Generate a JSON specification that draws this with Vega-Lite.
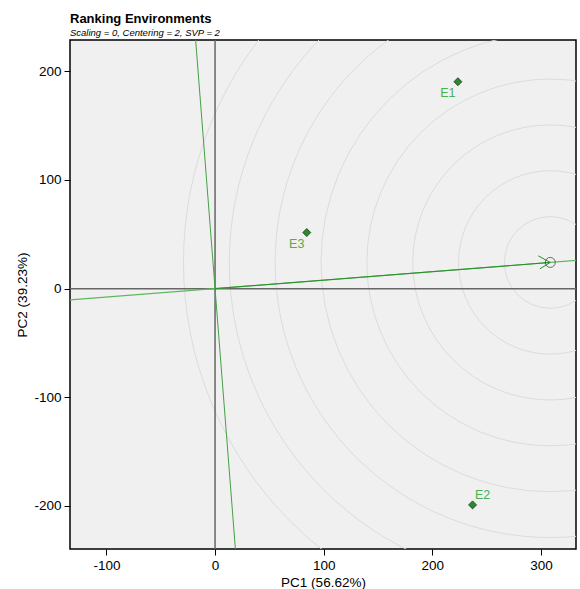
{
  "$schema": "https://vega.github.io/schema/vega-lite/v6.json",
  "width": 506,
  "height": 509,
  "autosize": "none",
  "padding": {"left": 70, "top": 40, "right": 4, "bottom": 40},
  "background": "white",
  "title": {
    "text": "Ranking Environments",
    "subtitle": "Scaling = 0, Centering = 2, SVP = 2",
    "anchor": "start",
    "frame": "group",
    "font": "Liberation Sans",
    "fontSize": 13,
    "fontWeight": "bold",
    "color": "black",
    "subtitleFont": "Liberation Sans",
    "subtitleFontSize": 9.5,
    "subtitleFontStyle": "italic",
    "subtitleColor": "black",
    "offset": 3,
    "subtitlePadding": 2
  },
  "config": {
    "view": {"fill": "#f0f0f0", "stroke": "black", "strokeWidth": 1.5},
    "axis": {
      "grid": false,
      "domain": false,
      "tickColor": "black",
      "tickSize": 6,
      "labelFont": "Liberation Sans",
      "labelFontSize": 13.5,
      "labelColor": "black",
      "labelPadding": 3,
      "labelExpr": "toString(datum.value)",
      "titleFont": "Liberation Sans",
      "titleFontSize": 13.5,
      "titleFontWeight": "normal",
      "titleColor": "black"
    }
  },
  "datasets": {
    "envs": [
      {"env": "E1", "pc1": 223.5, "pc2": 190.4},
      {"env": "E2", "pc1": 237.0, "pc2": -199.0},
      {"env": "E3", "pc1": 84.4, "pc2": 51.6}
    ],
    "circles": [
      {"cx": 308.5, "cy": 24.1, "r": 42.2},
      {"cx": 308.5, "cy": 24.1, "r": 84.4},
      {"cx": 308.5, "cy": 24.1, "r": 126.6},
      {"cx": 308.5, "cy": 24.1, "r": 168.8},
      {"cx": 308.5, "cy": 24.1, "r": 211.0},
      {"cx": 308.5, "cy": 24.1, "r": 253.2},
      {"cx": 308.5, "cy": 24.1, "r": 295.4},
      {"cx": 308.5, "cy": 24.1, "r": 337.6}
    ],
    "aec": [
      {"px": -140, "py": -10.94},
      {"px": 340, "py": 26.56}
    ],
    "perp": [
      {"px": -18.75, "py": 240},
      {"px": 19.53, "py": -250}
    ],
    "arrow": [
      {"seg": "shaft", "px": 0, "py": 0, "o": 0},
      {"seg": "shaft", "px": 308.5, "py": 24.1, "o": 1},
      {"seg": "head1", "px": 297.4, "py": 30.2, "o": 0},
      {"seg": "head1", "px": 308.5, "py": 24.1, "o": 1},
      {"seg": "head2", "px": 299.0, "py": 18.2, "o": 0},
      {"seg": "head2", "px": 308.5, "py": 24.1, "o": 1}
    ],
    "ideal": [
      {"px": 308.5, "py": 24.1}
    ]
  },
  "layer": [
    {
      "data": {"name": "circles"},
      "mark": {"type": "point", "shape": "circle", "filled": false, "stroke": "#dcdcdc", "strokeWidth": 1, "clip": true, "opacity": 1},
      "encoding": {
        "x": {"field": "cx", "type": "quantitative", "scale": {"domain": [-133.5, 332.2], "nice": false, "zero": false}, "axis": {"values": [-100, 0, 100, 200, 300], "title": "PC1 (56.62%)"}},
        "y": {"field": "cy", "type": "quantitative", "scale": {"domain": [-239.6, 228.8], "nice": false, "zero": false}, "axis": {"values": [-200, -100, 0, 100, 200], "title": "PC2 (39.23%)"}},
        "size": {"field": "r", "type": "quantitative", "scale": {"type": "pow", "exponent": 2, "domain": [0, 400], "range": [0, 755520]}, "legend": null}
      }
    },
    {
      "data": {"values": [{"v": 0}]},
      "mark": {"type": "rule", "color": "#666666", "strokeWidth": 1.5, "clip": true},
      "encoding": {"x": {"field": "v", "type": "quantitative"}}
    },
    {
      "data": {"values": [{"v": 0}]},
      "mark": {"type": "rule", "color": "#666666", "strokeWidth": 1.5, "clip": true},
      "encoding": {"y": {"field": "v", "type": "quantitative"}}
    },
    {
      "data": {"name": "aec"},
      "mark": {"type": "line", "color": "#5cb85c", "strokeWidth": 1.2, "clip": true},
      "encoding": {
        "x": {"field": "px", "type": "quantitative"},
        "y": {"field": "py", "type": "quantitative"}
      }
    },
    {
      "data": {"name": "perp"},
      "mark": {"type": "line", "color": "#45a045", "strokeWidth": 1, "clip": true},
      "encoding": {
        "x": {"field": "px", "type": "quantitative"},
        "y": {"field": "py", "type": "quantitative"},
        "order": {"field": "py", "type": "quantitative"}
      }
    },
    {
      "data": {"name": "arrow"},
      "mark": {"type": "line", "color": "#2a8f2a", "strokeWidth": 1, "clip": true},
      "encoding": {
        "x": {"field": "px", "type": "quantitative"},
        "y": {"field": "py", "type": "quantitative"},
        "detail": {"field": "seg", "type": "nominal"},
        "order": {"field": "o", "type": "quantitative"}
      }
    },
    {
      "data": {"name": "ideal"},
      "mark": {"type": "point", "shape": "circle", "filled": false, "stroke": "#333333", "strokeWidth": 1, "size": 100, "clip": true},
      "encoding": {
        "x": {"field": "px", "type": "quantitative"},
        "y": {"field": "py", "type": "quantitative"}
      }
    },
    {
      "data": {"name": "envs"},
      "mark": {"type": "point", "shape": "diamond", "filled": true, "fill": "#2a8a2a", "stroke": "#1a3a1a", "strokeWidth": 0.8, "size": 64, "opacity": 1, "clip": true},
      "encoding": {
        "x": {"field": "pc1", "type": "quantitative"},
        "y": {"field": "pc2", "type": "quantitative"}
      }
    },
    {
      "data": {"name": "envs"},
      "transform": [{"filter": "datum.env !== 'E2'"}],
      "mark": {"type": "text", "font": "Liberation Sans", "fontSize": 12.5, "color": "#4caf50", "dx": -10, "dy": 11, "align": "center", "baseline": "middle"},
      "encoding": {
        "x": {"field": "pc1", "type": "quantitative"},
        "y": {"field": "pc2", "type": "quantitative"},
        "text": {"field": "env"}
      }
    },
    {
      "data": {"name": "envs"},
      "transform": [{"filter": "datum.env === 'E2'"}],
      "mark": {"type": "text", "font": "Liberation Sans", "fontSize": 12.5, "color": "#4caf50", "dx": 10, "dy": -10, "align": "center", "baseline": "middle"},
      "encoding": {
        "x": {"field": "pc1", "type": "quantitative"},
        "y": {"field": "pc2", "type": "quantitative"},
        "text": {"field": "env"}
      }
    }
  ]
}
